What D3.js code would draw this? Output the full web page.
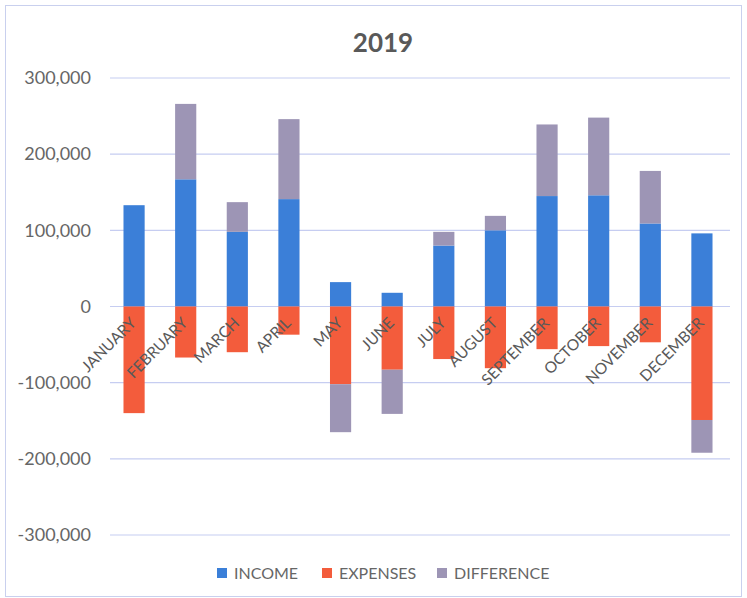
<!DOCTYPE html>
<html>
<head>
<meta charset="utf-8">
<script src="https://cdn.jsdelivr.net/npm/d3@7"></script>
<style>
  body { margin: 0; background: #fff; }
  text { font-family: Lato, "Open Sans", sans-serif; }
</style>
</head>
<body>
<div id="chart"></div>
<script>
var months = ['JANUARY', 'FEBRUARY', 'MARCH', 'APRIL', 'MAY', 'JUNE',
    'JULY', 'AUGUST', 'SEPTEMBER', 'OCTOBER', 'NOVEMBER', 'DECEMBER'];

var income = [133000, 167000, 98000, 141000, 32000, 18000, 80000, 100000, 145000, 146000, 109000, 96000];
var expenses = [-140000, -67000, -60000, -37000, -102000, -83000, -69000, -81000, -56000, -52000, -47000, -149000];
var difference = [0, 99000, 39000, 105000, -63000, -58000, 18000, 19000, 94000, 102000, 69000, -43000];

var yTicks = [-300000, -200000, -100000, 0, 100000, 200000, 300000];
var seriesNames = ['INCOME', 'EXPENSES', 'DIFFERENCE'];

var colours = {
    INCOME: '#3b7fd8',
    EXPENSES: '#f35c3c',
    DIFFERENCE: '#9d95b5'
};

var width = 747, height = 598;

var svg = d3.select('#chart').append('svg')
    .attr('width', width)
    .attr('height', height);

// chart frame
svg.append('rect')
    .attr('x', 5.5).attr('y', 5.5)
    .attr('width', 736).attr('height', 591)
    .attr('fill', '#fff')
    .attr('stroke', '#c9d0ee');

var rows = months.map(function (m, i) {
    return { month: m, INCOME: income[i], EXPENSES: expenses[i], DIFFERENCE: difference[i] };
});

var stacked = d3.stack()
    .keys(seriesNames)
    .offset(d3.stackOffsetDiverging)(rows);

var x = d3.scaleBand()
    .domain(months)
    .range([108, 728])
    .paddingInner(0.59)
    .paddingOuter(0.3);

var y = d3.scaleLinear()
    .domain([-300000, 300000])
    .range([535, 78]);

// plain hyphen for negatives, like the original
var fmt = function (v) { return d3.format(',')(v).replace('\u2212', '-'); };

// gridlines
svg.append('g').selectAll('line')
    .data(yTicks)
    .enter().append('line')
    .attr('x1', 110).attr('x2', 730)
    .attr('y1', d => y(d)).attr('y2', d => y(d))
    .attr('stroke', '#c6cdf1')
    .attr('stroke-width', 1.2);

// y labels
svg.append('g').selectAll('text')
    .data(yTicks)
    .enter().append('text')
    .attr('x', 91)
    .attr('y', d => y(d))
    .attr('dy', '0.35em')
    .attr('text-anchor', 'end')
    .attr('fill', '#666')
    .style('font-size', '18px')
    .text(d => fmt(d));

// bars
var layer = svg.append('g').selectAll('g')
    .data(stacked)
    .enter().append('g')
    .attr('fill', d => colours[d.key]);

layer.selectAll('rect')
    .data(d => d)
    .enter().append('rect')
    .attr('x', d => x(d.data.month))
    .attr('width', x.bandwidth())
    .attr('y', d => y(Math.max(d[0], d[1])))
    .attr('height', d => Math.abs(y(d[0]) - y(d[1])));

// month labels, rotated
svg.append('g').selectAll('text')
    .data(months)
    .enter().append('text')
    .attr('transform', d => 'translate(' + (x(d) + x.bandwidth() / 2 + 3) + ',324) rotate(-45)')
    .attr('text-anchor', 'end')
    .attr('fill', '#595959')
    .style('font-size', '15.5px')
    .text(d => d);

// title
svg.append('text')
    .attr('x', 383)
    .attr('y', 52)
    .attr('text-anchor', 'middle')
    .attr('fill', '#595959')
    .style('font-size', '26px')
    .style('font-weight', 'bold')
    .text('2019');

// legend
var legendX = [217, 322, 437];
var legend = svg.append('g').selectAll('g')
    .data(seriesNames)
    .enter().append('g')
    .attr('transform', (d, i) => 'translate(' + legendX[i] + ',568)');

legend.append('rect')
    .attr('width', 10).attr('height', 10)
    .attr('fill', d => colours[d]);

legend.append('text')
    .attr('x', 17)
    .attr('y', 5)
    .attr('dy', '0.35em')
    .attr('fill', '#666')
    .style('font-size', '16px')
    .text(d => d);
</script>
</body>
</html>
